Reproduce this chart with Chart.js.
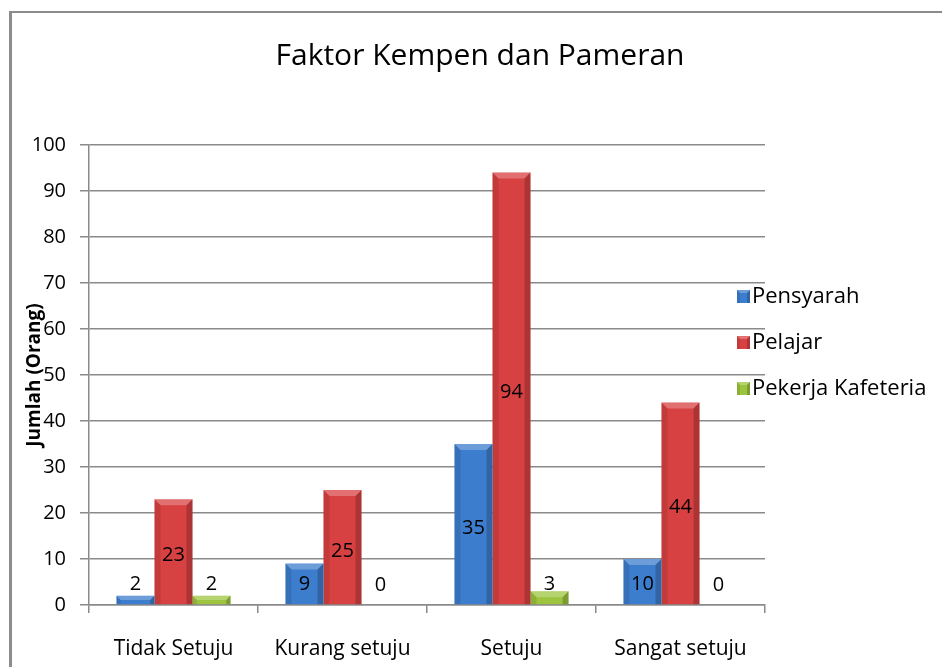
<!DOCTYPE html>
<html>
<head>
<meta charset="utf-8">
<script src="https://cdn.jsdelivr.net/npm/chart.js@4.4.0/dist/chart.umd.min.js"></script>
<style>
  html, body { margin: 0; padding: 0; background: #fff; }
  #wrap { position: relative; width: 942px; height: 667px; }
</style>
</head>
<body>
<div id="wrap"><canvas id="chart" width="942" height="667"></canvas></div>
<script>
// --- DATA ---
const categories = ['Tidak Setuju', 'Kurang setuju', 'Setuju', 'Sangat setuju'];
const seriesNames = ['Pensyarah', 'Pelajar', 'Pekerja Kafeteria'];
const pensyarah = [2, 9, 35, 10];
const pelajar = [23, 25, 94, 44];
const pekerjaKafeteria = [2, 0, 3, 0];
const yMin = 0, yMax = 100, yStep = 10;

const FONT = "'Open Sans', 'Noto Sans', sans-serif";
const GRID = '#8a8a8a';
const COLORS = ['#3d7dcd', '#d84141', '#9cc43e'];

// gray frame at top/left like the original picture
const framePlugin = {
  id: 'frame',
  beforeDraw(chart) {
    const ctx = chart.ctx;
    ctx.save();
    ctx.fillStyle = '#fff';
    ctx.fillRect(0, 0, chart.width, chart.height);
    ctx.fillStyle = '#8c8c8c';
    ctx.fillRect(9, 11, 3, chart.height - 11);
    ctx.fillRect(9, 11, chart.width - 9, 2);
    ctx.restore();
  }
};

function bevel(ctx, l, t, r, b, s) {
  const shades = [
    ['rgba(255,255,255,0.25)', [[l, t], [r, t], [r - s, t + s], [l + s, t + s]]],
    ['rgba(0,0,0,0.10)', [[l, t], [l + s, t + s], [l + s, b], [l, b]]],
    ['rgba(0,0,0,0.20)', [[r, t], [r, b], [r - s, b], [r - s, t + s]]]
  ];
  shades.forEach(([c, pts]) => {
    ctx.fillStyle = c;
    ctx.beginPath();
    pts.forEach((p, i) => i ? ctx.lineTo(p[0], p[1]) : ctx.moveTo(p[0], p[1]));
    ctx.closePath();
    ctx.fill();
  });
}

// bevel on bars + value labels in the middle
const barDecorPlugin = {
  id: 'barDecor',
  afterDatasetsDraw(chart) {
    const ctx = chart.ctx;
    ctx.save();
    chart.data.datasets.forEach((ds, di) => {
      const meta = chart.getDatasetMeta(di);
      meta.data.forEach((el, i) => {
        const { x, y, base, width } = el.getProps(['x', 'y', 'base', 'width'], true);
        const l = x - width / 2, r = x + width / 2;
        const h = base - y;
        if (h > 0) bevel(ctx, l, y, r, base, Math.min(6, h / 2, width / 2));
        ctx.fillStyle = '#000';
        ctx.font = '20px ' + FONT;
        ctx.textAlign = 'center';
        ctx.textBaseline = 'middle';
        const ly = Math.min((y + base) / 2, base - 24) + 4;
        ctx.fillText(String(ds.data[i]), x, ly);
      });
    });
    ctx.restore();
  }
};

// legend on the right, drawn from the datasets
const sideLegendPlugin = {
  id: 'sideLegend',
  afterDraw(chart) {
    const ctx = chart.ctx;
    ctx.save();
    const x0 = 737, y0 = 296, gap = 46;
    chart.data.datasets.forEach((ds, i) => {
      const cy = y0 + i * gap;
      ctx.fillStyle = ds.backgroundColor;
      ctx.fillRect(x0, cy - 6, 13, 13);
      bevel(ctx, x0, cy - 6, x0 + 13, cy + 7, 3);
      ctx.fillStyle = '#000';
      ctx.font = '22px ' + FONT;
      ctx.textAlign = 'left';
      ctx.textBaseline = 'middle';
      ctx.fillText(ds.label, x0 + 15, cy + 1);
    });
    ctx.restore();
  }
};

const seriesValues = [pensyarah, pelajar, pekerjaKafeteria];

new Chart(document.getElementById('chart'), {
  type: 'bar',
  data: {
    labels: categories,
    datasets: seriesNames.map((name, i) => ({
      label: name,
      data: seriesValues[i],
      backgroundColor: COLORS[i],
      borderWidth: 0,
      categoryPercentage: 0.675,
      barPercentage: 1.0
    }))
  },
  options: {
    responsive: false,
    animation: false,
    devicePixelRatio: 1,
    layout: { padding: { left: 20, right: 2, top: 38, bottom: 0 } },
    plugins: {
      legend: { display: false },
      tooltip: { enabled: false },
      title: {
        display: true,
        text: 'Faktor Kempen dan Pameran',
        color: '#000',
        font: { family: FONT, size: 30, weight: 'normal' },
        padding: { top: 0, bottom: 71 }
      }
    },
    scales: {
      x: {
        grid: { display: true, drawOnChartArea: false, drawTicks: true, tickLength: 8, color: GRID, lineWidth: 1.5, offset: true },
        border: { color: GRID, width: 1.5 },
        ticks: { color: '#000', font: { family: FONT, size: 21 }, padding: 23, maxRotation: 0, autoSkip: false },
        afterFit(s) { s.height = 62; }
      },
      y: {
        min: yMin,
        max: yMax,
        ticks: { stepSize: yStep, color: '#000', font: { family: FONT, size: 20 }, padding: 14 },
        grid: { color: GRID, lineWidth: 1.5, tickLength: 9 },
        border: { color: GRID, width: 1.5 },
        title: {
          display: true,
          text: 'Jumlah (Orang)',
          color: '#000',
          font: { family: FONT, size: 19, weight: 'bold' },
          padding: { top: 3, bottom: 0 }
        },
        afterFit(s) { s.width = 69; }
      },
      // empty right-hand axis that only reserves room for the legend
      yRight: {
        position: 'right',
        min: yMin,
        max: yMax,
        ticks: { display: false },
        grid: { drawOnChartArea: false, drawTicks: false },
        border: { display: false },
        afterFit(s) { s.width = 175; }
      }
    }
  },
  plugins: [framePlugin, barDecorPlugin, sideLegendPlugin]
});
</script>
</body>
</html>
